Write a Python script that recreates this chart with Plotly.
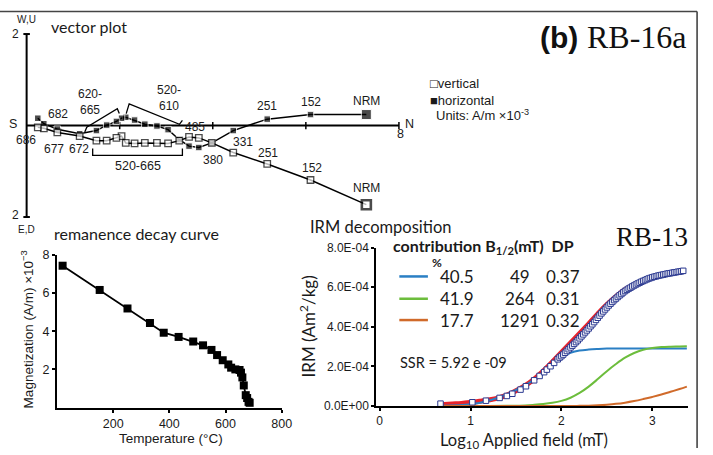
import plotly.graph_objects as go

W, H = 713, 455

# ---------------- data ----------------
# Vector (Zijderveld) plot, units A/m x1e-3
vec_steps = ["NRM", "152", "251", "331", "380", "433", "485", "520", "550", "570", "590",
             "610", "620", "635", "650", "660", "665", "672", "677", "682", "686"]
vec_north = [7.30, 6.10, 5.17, 4.44, 3.98, 3.70, 3.49, 3.28, 3.04, 2.80, 2.54,
             2.32, 2.13, 2.04, 1.93, 1.72, 1.50, 1.14, 0.66, 0.37, 0.24]
hor_west = [0.24, 0.24, 0.14, -0.11, -0.38, -0.48, -0.45, -0.31, -0.09, -0.01, 0.03,
            0.12, 0.18, 0.16, 0.09, 0.01, -0.11, -0.18, -0.08, 0.04, 0.16]
vert_up = [-1.73, -1.19, -0.84, -0.59, -0.38, -0.27, -0.25, -0.33, -0.39, -0.38, -0.38,
           -0.39, -0.38, -0.23, -0.27, -0.33, -0.33, -0.23, -0.15, -0.06, -0.04]

# Remanence decay curve
dec_temp = [20, 152, 251, 331, 380, 433, 485, 520, 550, 570, 590, 610, 620, 635, 650,
            655, 660, 665, 672, 677, 682, 686]
dec_mag = [7.43, 6.16, 5.19, 4.43, 3.92, 3.70, 3.46, 3.26, 3.02, 2.75, 2.48, 2.26, 2.09,
           2.00, 1.97, 1.83, 1.58, 1.16, 0.65, 0.50, 0.30, 0.25]

# IRM decomposition (x = log10 field in mT, y = IRM in 1e-4 Am2/kg)
irm_x = [0.67, 1.02, 1.17, 1.32, 1.40, 1.46, 1.55, 1.61, 1.70, 1.76, 1.81, 1.84, 1.88, 1.92,
         1.96, 1.98, 2.00, 2.02, 2.04, 2.06, 2.08, 2.10, 2.12, 2.14, 2.16, 2.18, 2.20, 2.22,
         2.24, 2.26, 2.28, 2.30, 2.32, 2.34, 2.36, 2.38, 2.40, 2.42, 2.44, 2.46, 2.48, 2.50,
         2.52, 2.54, 2.56, 2.58, 2.60, 2.62, 2.64, 2.66, 2.68, 2.70, 2.72, 2.74, 2.76, 2.78,
         2.80, 2.82, 2.84, 2.86, 2.88, 2.90, 2.92, 2.94, 2.96, 2.98, 3.00, 3.02, 3.04, 3.06,
         3.08, 3.10, 3.12, 3.14, 3.16, 3.18, 3.20, 3.22, 3.24, 3.26, 3.28, 3.30, 3.32, 3.34]
irm_y = [0.12, 0.19, 0.27, 0.41, 0.51, 0.62, 0.83, 1.00, 1.30, 1.52, 1.71, 1.84, 2.01, 2.18,
         2.36, 2.45, 2.52, 2.60, 2.69, 2.78, 2.87, 2.96, 3.05, 3.14, 3.23, 3.32, 3.42, 3.52,
         3.62, 3.72, 3.82, 3.92, 4.03, 4.13, 4.24, 4.35, 4.46, 4.57, 4.68, 4.78, 4.88, 4.98,
         5.08, 5.17, 5.26, 5.35, 5.43, 5.51, 5.59, 5.66, 5.74, 5.81, 5.87, 5.93, 5.98, 6.04,
         6.09, 6.14, 6.19, 6.23, 6.28, 6.32, 6.36, 6.40, 6.44, 6.47, 6.50, 6.53, 6.55, 6.58,
         6.60, 6.62, 6.64, 6.66, 6.68, 6.70, 6.71, 6.73, 6.75, 6.76, 6.78, 6.79, 6.81, 6.83]
fit_x = [0.67, 0.8, 0.9, 1.0, 1.1, 1.2, 1.3, 1.4, 1.5, 1.6, 1.7, 1.8, 1.9, 2.0, 2.1, 2.2,
         2.3, 2.4, 2.5, 2.6, 2.7, 2.8, 2.9, 3.0, 3.1, 3.2, 3.3, 3.35]
fit_y = [0.06, 0.10, 0.13, 0.18, 0.24, 0.31, 0.40, 0.55, 0.77, 1.03, 1.36, 1.76, 2.22,
         2.70, 3.18, 3.66, 4.15, 4.65, 5.12, 5.52, 5.88, 6.12, 6.33, 6.50, 6.62, 6.72,
         6.80, 6.83]
comp_x = [0.7, 1.0, 1.2, 1.4, 1.6, 1.7, 1.8, 1.9, 2.0, 2.1, 2.2, 2.3, 2.4, 2.5, 2.6, 2.7,
          2.8, 2.9, 3.0, 3.1, 3.2, 3.3, 3.38]
comp1_y = [0.01, 0.09, 0.27, 0.60, 1.05, 1.32, 1.62, 2.10, 2.50, 2.69, 2.80, 2.85, 2.88,
           2.90, 2.90, 2.90, 2.90, 2.90, 2.90, 2.90, 2.90, 2.90, 2.90]
comp2_y = [0.0, 0.0, 0.0, 0.01, 0.03, 0.06, 0.10, 0.16, 0.26, 0.42, 0.66, 0.98, 1.36,
           1.76, 2.12, 2.44, 2.68, 2.84, 2.93, 2.98, 3.00, 3.01, 3.02]
comp3_y = [0.0, 0.0, 0.0, 0.0, 0.0, 0.0, 0.0, 0.0, 0.0, 0.0, 0.01, 0.02, 0.04, 0.07,
           0.11, 0.17, 0.25, 0.35, 0.46, 0.58, 0.72, 0.86, 0.98]
comp_contrib = ["40.5", "41.9", "17.7"]
comp_bhalf = ["49", "264", "1291"]
comp_dp = ["0.37", "0.31", "0.32"]
comp_colors = ["#2a7fc4", "#6cbd3c", "#d06a2a"]

# ---------------- geometry helpers ----------------
def px(x):
    return x / W

def py(y):
    return 1 - y / H

X0, Y0, S = 27.0, 122.3, 47.2  # vector plot origin (px) and px per unit
vx_range = [-X0 / S, (W - X0) / S]
vy_range = [-(230 - Y0) / S, Y0 / S]

ARIAL = "Liberation Sans, Arial, sans-serif"
MYR = "Lato, Open Sans, sans-serif"
INK = "#1a1a1a"

fig = go.Figure()

n = len(vec_north)
# vector plot traces
fig.add_trace(go.Scatter(x=vec_north, y=hor_west, mode="lines+markers",
                         line=dict(color="black", width=1.5),
                         marker=dict(symbol="square", color="black", size=[10] + [6.5] * (n - 1)),
                         xaxis="x", yaxis="y", showlegend=False, cliponaxis=False))
fig.add_trace(go.Scatter(x=vec_north, y=vert_up, mode="lines+markers",
                         line=dict(color="black", width=1.5),
                         marker=dict(symbol="square", color="white", size=[9] + [6.5] * (n - 1),
                                     line=dict(color="black", width=[2.6] + [1.3] * (n - 1))),
                         xaxis="x", yaxis="y", showlegend=False, cliponaxis=False))

# decay curve
fig.add_trace(go.Scatter(x=dec_temp, y=dec_mag, mode="lines+markers",
                         line=dict(color="black", width=1.8),
                         marker=dict(symbol="square", color="black", size=8),
                         xaxis="x2", yaxis="y2", showlegend=False, cliponaxis=False))

# IRM
fig.add_trace(go.Scatter(x=fit_x, y=[v * 1e-4 for v in fit_y], mode="lines",
                         line=dict(color="#e8232b", width=5, shape="spline"),
                         xaxis="x3", yaxis="y3", showlegend=False, cliponaxis=False))
for cy, col in zip([comp1_y, comp2_y, comp3_y], comp_colors):
    fig.add_trace(go.Scatter(x=comp_x, y=[v * 1e-4 for v in cy], mode="lines",
                             line=dict(color=col, width=2, shape="spline"),
                             xaxis="x3", yaxis="y3", showlegend=False, cliponaxis=False))
fig.add_trace(go.Scatter(x=irm_x, y=[v * 1e-4 for v in irm_y], mode="markers",
                         marker=dict(symbol="square", color="white", size=5.5,
                                     line=dict(width=1, color="#2b3990")),
                         xaxis="x3", yaxis="y3", showlegend=False, cliponaxis=False))

shapes = []
# frame
shapes.append(dict(type="line", xref="paper", yref="paper", x0=0, x1=px(707), y0=py(4.7), y1=py(4.7),
                   line=dict(color="#444", width=1.6)))
shapes.append(dict(type="line", xref="paper", yref="paper", x0=px(707), x1=px(707), y0=py(4.7), y1=0,
                   line=dict(color="#444", width=1.6)))
# vector axes (drawn below the marks)
shapes.append(dict(type="line", xref="x", yref="y", x0=0, x1=0, y0=-2, y1=2, layer="below",
                   line=dict(color="black", width=2)))
shapes.append(dict(type="line", xref="x", yref="y", x0=0, x1=8, y0=0, y1=0, layer="below",
                   line=dict(color="black", width=2)))
for yy in [-2, 2]:
    shapes.append(dict(type="line", xref="x", yref="y", x0=-0.07, x1=0.07, y0=yy, y1=yy,
                       layer="below", line=dict(color="black", width=2)))
for xx in [2, 4, 6, 8]:
    shapes.append(dict(type="line", xref="x", yref="y", x0=xx, x1=xx, y0=-0.08, y1=0.08,
                       layer="below", line=dict(color="black", width=1.5)))

# brackets (pixel paths)
def path(pts):
    return "M " + " L ".join(f"{px(a)},{py(b)}" for a, b in pts)

for pts in [[(86, 129), (88, 124), (119, 105), (121, 110)],
            [(128, 110), (131, 100), (182, 121), (185, 117)],
            [(94, 146), (94, 153), (185, 153), (185, 146)]]:
    shapes.append(dict(type="path", xref="paper", yref="paper", path=path(pts),
                       line=dict(color="black", width=1.3)))

# IRM legend lines
row_y = [278, 301, 323]
for i, col in enumerate(comp_colors):
    shapes.append(dict(type="line", xref="paper", yref="paper", x0=px(405), x1=px(434),
                       y0=py(row_y[i]), y1=py(row_y[i]), line=dict(color=col, width=2.5)))

ann = []

def A(text, x, y, size=11, font=ARIAL, xanchor="center", yanchor="middle", color=INK, **kw):
    ann.append(dict(text=text, x=px(x), y=py(y), xref="paper", yref="paper", showarrow=False,
                    xanchor=xanchor, yanchor=yanchor, font=dict(size=size, family=font, color=color), **kw))

def P(text, xi, yv, dx, dy, size=12):
    ann.append(dict(text=text, x=vec_north[xi], y=yv, xref="x", yref="y", showarrow=False,
                    xshift=dx, yshift=dy, font=dict(size=size, family=ARIAL, color=INK)))

# vector plot labels
A("W,U", 27, 13, size=10)
A("2", 16, 28, size=12)
A("vector plot", 50, 20, size=16, font=MYR, xanchor="left")
A("S", 13, 121, size=12.5)
A("2", 16, 215, size=12)
A("E,D", 27, 230, size=10)
A("N", 415, 121, size=12.5)
A("8", 406, 131, size=12.5)
P("NRM", 0, hor_west[0], 0, 14)
P("152", 1, hor_west[1], 0, 13)
P("251", 2, hor_west[2], 0, 13)
P("331", 3, hor_west[3], 10, -11)
P("380", 4, vert_up[4], 1, -17)
P("485", 6, vert_up[6], 6, 10)
P("NRM", 0, vert_up[0], 0, 17)
P("152", 1, vert_up[1], 1, 12)
P("251", 2, vert_up[2], 1, 11)
P("686", 20, vert_up[20], -12, -13)
P("682", 19, hor_west[19], 14, 10)
P("677", 18, vert_up[18], -3, -17)
P("672", 17, vert_up[17], -1, -13)
A("620-<br>665", 91, 98, size=12)
A("520-<br>610", 171, 94, size=12)
A("520-665", 140, 164, size=12.5)
A("□vertical", 434, 79, size=13, xanchor="left")
A("■horizontal", 434, 96, size=13, xanchor="left")
A("Units: A/m ×10<sup>-3</sup>", 440, 111, size=13, xanchor="left")
A("<b>(b)</b>", 567, 31, size=30, font="Liberation Sans, Arial", color="#111")
A("RB-16a", 646, 31, size=32, font="Liberation Serif, Times New Roman", color="#111")

# decay labels
A("remanence decay curve", 53, 234, size=16, font=MYR, xanchor="left")
A("Magnetization (A/m) ×10<sup>−3</sup>", 27, 333, size=13.5, textangle=-90)
A("Temperature (°C)", 173, 445, size=13.5)

# IRM labels
A("IRM decomposition", 312, 227, size=16.5, font=MYR, xanchor="left")
A("RB-13", 661, 237, size=27, font="Liberation Serif, Times New Roman", color="#111")
A("IRM (Am<sup>2</sup>/kg)", 312, 330, size=17, font=MYR, textangle=-90)
A("Log<sub>10</sub> Applied field (mT)", 531, 447, size=16.5, font=MYR)
A("<b>contribution B<sub>1/2</sub>(mT)  DP</b>", 490, 247, size=16, font=MYR)
A("<b>%</b>", 443, 264, size=12, font=MYR)
for i in range(3):
    A(comp_contrib[i], 463, row_y[i], size=17, font=MYR)
    A(comp_bhalf[i], 527, row_y[i], size=17, font=MYR)
    A(comp_dp[i], 571, row_y[i], size=17, font=MYR)
A("SSR = 5.92 e -09", 404, 367, size=14.5, font=MYR, xanchor="left")

axis_common = dict(showgrid=False, zeroline=False, showline=True, linecolor="black", linewidth=2,
                   ticks="outside", ticklen=3, tickwidth=1.5, tickcolor="black",
                   tickfont=dict(family=ARIAL, size=12.5, color=INK))

fig.update_layout(
    width=W, height=H, margin=dict(l=0, r=0, t=0, b=0),
    paper_bgcolor="white", plot_bgcolor="rgba(0,0,0,0)",
    xaxis=dict(domain=[0, 1], range=vx_range, visible=False, anchor="y"),
    yaxis=dict(domain=[py(230), 1], range=vy_range, visible=False, anchor="x"),
    xaxis2=dict(domain=[px(57.8), px(285.7)], range=[0, 800], anchor="y2",
                tickvals=[200, 400, 600, 800], **axis_common),
    yaxis2=dict(domain=[py(413.3), py(255.7)], range=[0, 8], anchor="x2",
                tickvals=[2, 4, 6, 8], **axis_common),
    xaxis3=dict(domain=[px(381.7), px(698)], range=[-0.036, 3.395], anchor="y3",
                tickvals=[0, 1, 2, 3], ticklabelstandoff=0,
                **{**axis_common, "tickfont": dict(family=ARIAL, size=12, color=INK)}),
    yaxis3=dict(domain=[py(411.7), py(248.3)], range=[0, 8e-4], anchor="x3",
                tickvals=[0, 2e-4, 4e-4, 6e-4, 8e-4],
                ticktext=["0.0E+00", "2.0E-04", "4.0E-04", "6.0E-04", "8.0E-04"],
                **{**axis_common, "tickfont": dict(family=ARIAL, size=12, color=INK)}),
    shapes=shapes, annotations=ann,
)

fig.write_html("out.html")
